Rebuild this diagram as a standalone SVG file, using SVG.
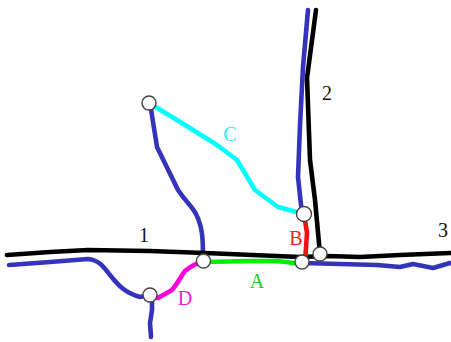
<svg xmlns="http://www.w3.org/2000/svg" width="451" height="342" viewBox="0 0 451 342">
<style>
.l{fill:none;stroke-width:4.6;stroke-linecap:round;stroke-linejoin:round}
.k{stroke:#000}.b{stroke:#3333bb}.g{stroke:#00ee00}.r{stroke:#ee1111}.c{stroke:#00ffff}.m{stroke:#ff00dd}
.n{fill:#fff;stroke:#444;stroke-width:1.4}
text{font-family:"Liberation Serif","Times New Roman",serif;font-size:20px;text-anchor:middle}
</style>
<rect width="451" height="342" fill="#fff"/>
<g id="connectors">
<path class="l b" d="M9 265L50 262L88 259C100 260 105 269 110 275C118 285 125 293 140 297L150 295"/>
<path class="l b" d="M152 295L152 310L150 323L151 337"/>
<path class="l b" d="M150 103L157 147L178 190C186 202 192 206 196 214C203 228 203 240 203 260"/>
<path class="l b" d="M308 10L303 67L300 125L298 177L302 214"/>
<path class="l b" d="M302 263L340 264L377 265L400 267L413 264L433 268L450 263"/>
<path class="l k" d="M7 255L50 252L88 250L150 251L205 253L300 257L327 256L360 257L400 255L450 253"/>
<path class="l k" d="M316 10L307 78L310 160L315 200L320 254"/>
<path class="l g" d="M204 262L250 261L277 261L302 264"/>
<path class="l r" d="M304 214L307 233L305 262"/>
<path class="l c" d="M149 103L190 128L217 145L237 160L255 190L278 207L304 214"/>
<path class="l m" d="M150 297L158 298L172 290C178 283 181 276 185 271C191 266 197 263 204 261"/>
</g>
<g id="node-c"><circle class="n" cx="149" cy="103" r="7"/></g>
<g id="node-b"><circle class="n" cx="304" cy="214" r="7.5"/></g>
<g id="node-3"><circle class="n" cx="320" cy="254" r="7"/></g>
<g id="node-a"><circle class="n" cx="302" cy="262" r="7"/></g>
<g id="node-1"><circle class="n" cx="203.500" cy="261" r="7"/></g>
<g id="node-d"><circle class="n" cx="150" cy="295" r="7"/></g>
<text x="144" y="242" fill="#111">1</text>
<text x="327" y="100" fill="#111">2</text>
<text x="443" y="237" fill="#111">3</text>
<text x="257" y="288" fill="#22cc22">A</text>
<text x="296" y="245" fill="#ee2222">B</text>
<text x="230" y="141" fill="#22eeee">C</text>
<text x="185" y="305" fill="#ee22dd">D</text>
</svg>
